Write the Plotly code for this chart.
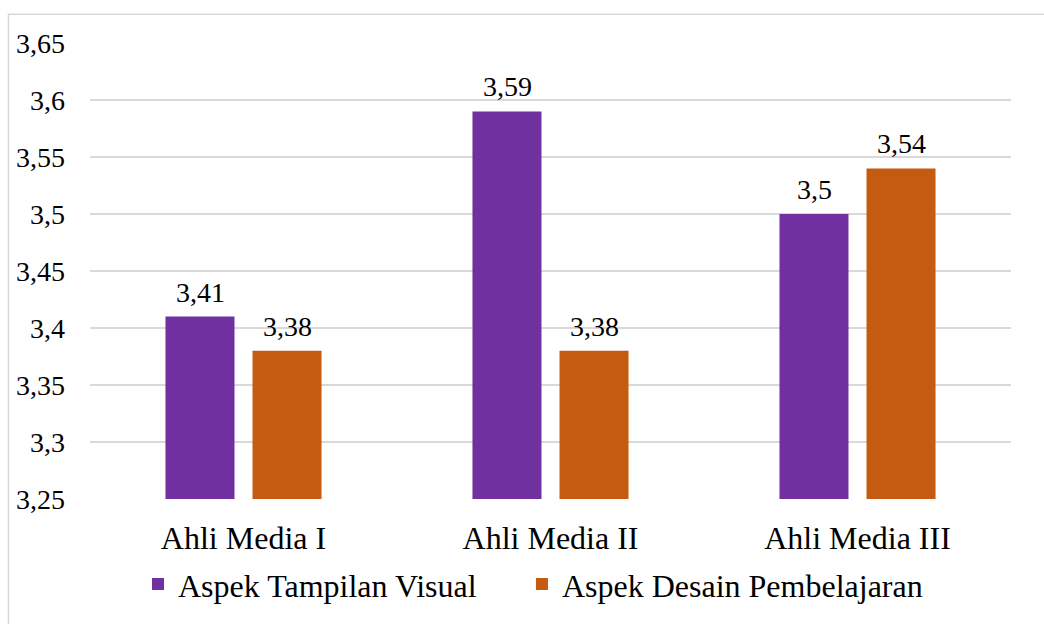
import plotly.graph_objects as go

categories = ["Ahli Media I", "Ahli Media II", "Ahli Media III"]
visual = [3.41, 3.59, 3.50]
desain = [3.38, 3.38, 3.54]
series_names = ["Aspek Tampilan Visual", "Aspek Desain Pembelajaran"]
colors = ["#7030A0", "#C55A11"]

FONT = '"Liberation Serif", "Times New Roman", serif'

def fmt(v):
    s = ("%.2f" % v).rstrip("0").rstrip(".")
    return s.replace(".", ",")

fig = go.Figure()
legend_ids = ["legend", "legend2"]
for name, vals, col, lg in zip(series_names, [visual, desain], colors, legend_ids):
    fig.add_trace(go.Bar(x=categories, y=vals, name=name, marker_color=col,
                         marker_line_width=0, hoverinfo="skip", legend=lg))

shift = [-43.5, 43.5]
for k, vals in enumerate([visual, desain]):
    for c, v in zip(categories, vals):
        fig.add_annotation(x=c, y=v, text=fmt(v), showarrow=False, xshift=shift[k],
                           yanchor="bottom", yshift=7,
                           font=dict(family=FONT, size=28, color="#000000"))

fig.add_shape(type="rect", xref="paper", yref="paper", x0=-0.0885, x1=1.3,
              y0=-0.6, y1=1.063, line=dict(color="#D9D9D9", width=1.5), layer="below")

legend_style = dict(orientation="h", xanchor="left", yanchor="middle", y=-0.187,
                    font=dict(family=FONT, size=32, color="#000000"),
                    bgcolor="rgba(0,0,0,0)")

fig.update_layout(
    width=1044, height=624,
    margin=dict(l=90, r=33, t=43, b=122),
    paper_bgcolor="white", plot_bgcolor="white",
    separators=",.",
    bargap=0.433, bargroupgap=0.207,
    font=dict(family=FONT, size=28, color="#000000"),
    showlegend=True,
    legend=dict(x=0.0521, **legend_style),
    legend2=dict(x=0.469, **legend_style),
    xaxis=dict(showgrid=False, showline=False, ticks="", tickfont=dict(size=32),
               ticklabelstandoff=17),
    yaxis=dict(range=[3.25, 3.65], dtick=0.05, tick0=3.25, showgrid=True,
               gridcolor="#D9D9D9", gridwidth=1.5, zeroline=False, showline=False,
               ticks="", ticklabelstandoff=24, tickfont=dict(size=28)),
)

fig.write_html("out.html")
